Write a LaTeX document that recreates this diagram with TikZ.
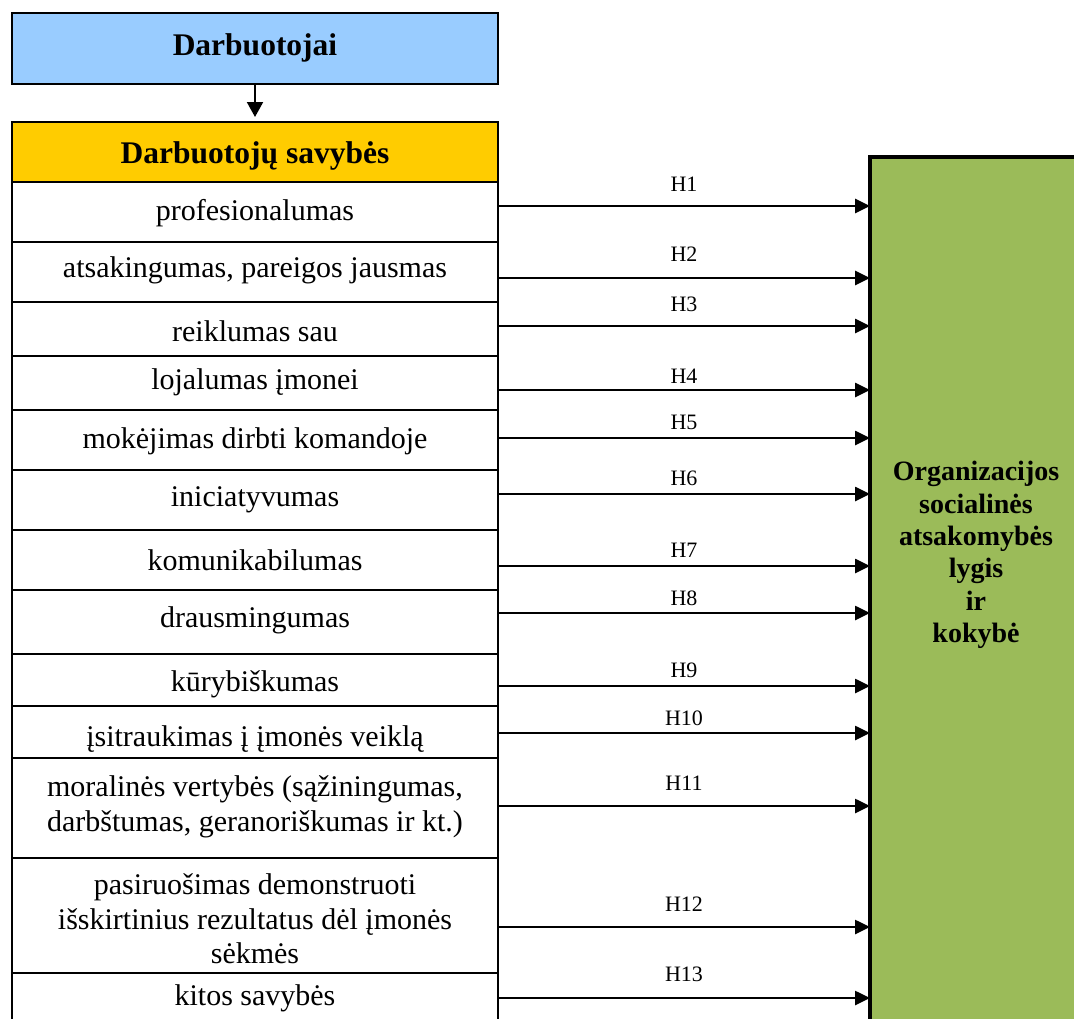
\documentclass[tikz,border=0pt]{standalone}
\usepackage{fontspec}
\setmainfont{Liberation Serif}
\usetikzlibrary{arrows.meta}
\definecolor{topblue}{HTML}{99CCFF}
\definecolor{headyellow}{HTML}{FFCC00}
\definecolor{boxgreen}{HTML}{9BBB59}
\begin{document}
\begin{tikzpicture}[x=1pt,y=-1pt,
  boxbase/.style={draw=black, inner sep=0pt, outer sep=0pt, anchor=north west, minimum width=486pt},
  rowbox/.style={boxbase, line width=2pt},
  rowtext/.style={font=\fontsize{30}{34.5}\selectfont, align=center, inner sep=0pt},
  hlabel/.style={font=\fontsize{22}{24}\selectfont, inner sep=0pt},
  harrow/.style={line width=2.6pt, -{Triangle[length=15pt,width=14pt]}},
  headtext/.style={font=\bfseries\fontsize{31.5}{36}\selectfont, inner sep=0pt}
]
\useasboundingbox (0,0) rectangle (1074,1018);
\clip (0,0) rectangle (1074,1018);
\fill[white] (0,0) rectangle (1074,1018);

% top box
\node[boxbase, line width=2pt, fill=topblue, minimum height=71pt] (top) at (12,13) {};
\node[headtext] (toptext) at (255,48) {Darbuotojai};

% header
\node[boxbase, line width=2pt, fill=headyellow, minimum height=59.5pt] (head) at (12,122) {};
\node[headtext] (headtxt) at (255,156) {Darbuotojų savybės};

\draw[line width=2pt, -{Triangle[length=15pt,width=16pt]}, shorten >=5pt] (top.south) -- (head.north);

% rows
\node[rowbox, minimum height=60pt] (r1) at (12,181.5) {};
\node[rowbox, minimum height=60pt] (r2) at (12,241.5) {};
\node[rowbox, minimum height=54.5pt] (r3) at (12,301.5) {};
\node[rowbox, minimum height=54pt] (r4) at (12,356) {};
\node[rowbox, minimum height=60pt] (r5) at (12,410) {};
\node[rowbox, minimum height=60pt] (r6) at (12,470) {};
\node[rowbox, minimum height=60pt] (r7) at (12,530) {};
\node[rowbox, minimum height=64pt] (r8) at (12,590) {};
\node[rowbox, minimum height=52pt] (r9) at (12,654) {};
\node[rowbox, minimum height=52pt] (r10) at (12,706) {};
\node[rowbox, minimum height=100pt] (r11) at (12,758) {};
\node[rowbox, minimum height=114.5pt] (r12) at (12,858) {};
\node[rowbox, minimum height=70pt] (r13) at (12,972.5) {};

\node[rowtext] (t1) at (255,213) {profesionalumas};
\node[rowtext] (t2) at (255,270) {atsakingumas, pareigos jausmas};
\node[rowtext] (t3) at (255,331) {reiklumas sau};
\node[rowtext] (t4) at (255,382) {lojalumas įmonei};
\node[rowtext] (t5) at (255,441) {mokėjimas dirbti komandoje};
\node[rowtext] (t6) at (255,500) {iniciatyvumas};
\node[rowtext] (t7) at (255,560) {komunikabilumas};
\node[rowtext] (t8) at (255,620) {drausmingumas};
\node[rowtext] (t9) at (255,684) {kūrybiškumas};
\node[rowtext] (t10) at (255,739) {įsitraukimas į įmonės veiklą};
\node[rowtext] (t11) at (255,807) {moralinės vertybės (sąžiningumas,\\darbštumas, geranoriškumas ir kt.)};
\node[rowtext] (t12) at (255,919) {pasiruošimas demonstruoti\\išskirtinius rezultatus dėl įmonės\\sėkmės};
\node[rowtext] (t13) at (255,998) {kitos savybės};

% green box
\node[draw=black, line width=3.6pt, fill=boxgreen, inner sep=0pt, outer sep=0pt, anchor=north west,
      minimum width=212pt, minimum height=900pt] (g) at (870,157) {};
\node[font=\bfseries\fontsize{28}{32.4}\selectfont, align=center, inner sep=0pt] (gt) at (976,555)
  {Organizacijos\\socialinės\\atsakomybės\\lygis\\ir\\kokybė};

% arrows and labels
\foreach \r/\ay/\ly/\lab in {r1/206/184/H1, r2/278/254/H2, r3/326/304/H3, r4/390/376/H4,
  r5/438/422/H5, r6/494/478/H6, r7/566/550/H7, r8/613/598/H8, r9/686/670/H9,
  r10/733/718/H10, r11/806/783/H11, r12/927/904/H12, r13/998/974/H13}{
  \coordinate (c\lab) at (684,\ay);
  \draw[harrow] (\r.east |- c\lab) -- (g.west |- c\lab);
  \node[hlabel] (l\lab) at (684,\ly) {\lab};
}
\end{tikzpicture}
\end{document}
